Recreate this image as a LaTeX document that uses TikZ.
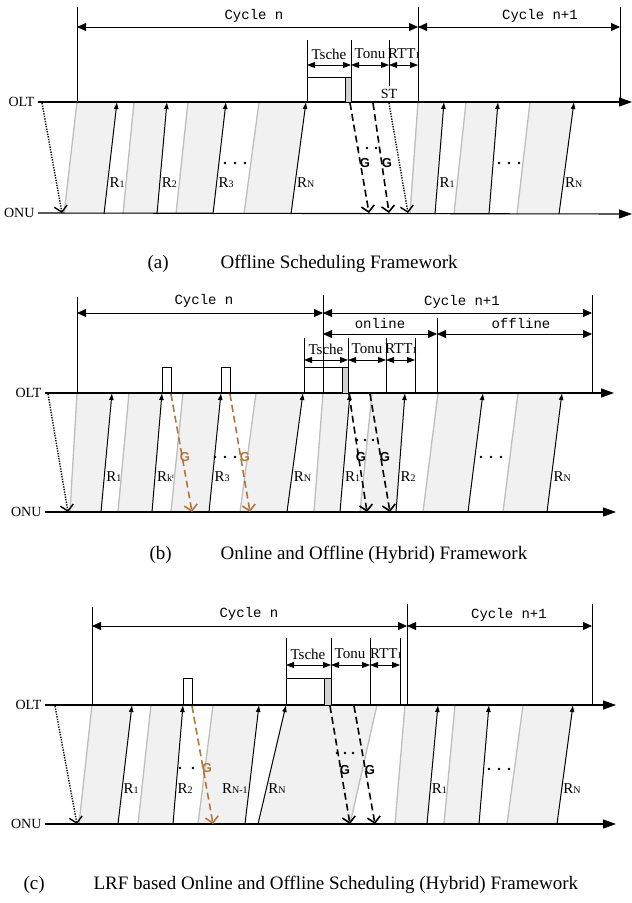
\documentclass[tikz,border=0pt]{standalone}
\usepackage{fontspec}
\setmainfont{Liberation Serif}
\setsansfont{Liberation Sans}
\setmonofont{Liberation Mono}
\usepackage{tikz}
\usetikzlibrary{arrows.meta}
\definecolor{grantorange}{RGB}{178,118,58}
\definecolor{slotgray}{RGB}{241,241,241}
\definecolor{edgegray}{RGB}{190,190,190}
\tikzset{>=stealth}
\tikzset{%
    slotfill/.style={fill=slotgray},
    slotedge/.style={draw=edgegray, line width=1.3pt},
    req/.style={-{Latex[length=7pt,width=5pt]}, line width=1pt},
    axis/.style={line width=1.1pt, -{Triangle[length=13pt,width=9pt]}},
    grant/.style={dash pattern=on 7pt off 4pt, line width=1.6pt, -{Straight Barb[length=6pt,width=13pt]}},
    ograntt/.style={grant, draw=grantorange},
    poll/.style={dash pattern=on 1.3pt off 1.3pt, line width=1.4pt, -{Straight Barb[length=6pt,width=13pt]}},
    span/.style={{Triangle[length=9pt,width=8pt]}-{Triangle[length=9pt,width=8pt]}, line width=0.9pt},
    tspan/.style={{Triangle[length=8pt,width=6pt]}-{Triangle[length=8pt,width=6pt]}, line width=0.9pt},
    mono/.style={font=\ttfamily\fontsize{14}{14}\selectfont},
    tlab/.style={font=\fontsize{15}{15}\selectfont},
    gnode/.style={font=\sffamily\bfseries\fontsize{13}{13}\selectfont, inner sep=0pt},
    captext/.style={font=\fontsize{19}{22}\selectfont, anchor=west}
}
\newcommand{\Rs}[1]{{\fontsize{15}{15}\selectfont R}{\fontsize{10}{10}\selectfont #1}}
\newcommand{\Rkn}{{\fontsize{15}{15}\selectfont R}{\fontsize{10}{10}\selectfont k\raisebox{3pt}{\fontsize{7}{7}\selectfont n}}}
\newcommand{\RTTone}{RTT{\fontsize{9}{9}\selectfont 1}}
\newcommand{\threedots}[3]{\foreach \k in {0,1,2} \fill ({#1+#3*\k},#2) circle (1.4pt);}

\begin{document}
\begin{tikzpicture}[x=1pt,y=-1pt,every node/.style={font=\fontsize{14}{16}\selectfont}]
\useasboundingbox (0,0) rectangle (632,903);

% (a) offline
\foreach \ta/\ba/\bb/\tb/\lab in {77/64/104/117/\Rs{1}, 134/123/157/167/\Rs{2}, 188/176/213/226/\Rs{3}, 259/244/291/306/\Rs{N}, 418/410/435/444/\Rs{1}, 466/454/489/498/{}, 530/517/559/574/\Rs{N}}{
    \fill[slotfill] (\ta,102) -- (\tb,102) -- (\bb,214) -- (\ba,214) -- cycle;
    \draw[slotedge] (\ta,102) -- (\ba,214);
    \draw[req] (\bb,214) -- (\tb,102) node[pos=0.28,right,inner sep=1.5pt] {\lab};
}
\node[anchor=east] (olta) at (38,102) {OLT};
\node[anchor=east] (onua) at (38,213) {ONU};
\draw[axis] (olta.east) -- (632,102);
\draw[axis] (onua.east) -- (632,214);

\draw[line width=1pt] (77,7) -- (77,102);
\draw[line width=1pt] (418,7) -- (418,102);
\draw[line width=1pt] (620,7) -- (620,102);
\draw[span] (77,27) -- (418,27);
\draw[span] (418,27) -- (620,27);
\node[mono] (cyca) at (254,16) {Cycle n};
\node[mono] (cycaa) at (540,16) {Cycle n+1};

\draw[line width=0.9pt] (307,40) -- (307,102);
\draw[line width=0.9pt] (351,40) -- (351,102);
\draw[line width=0.9pt] (389,40) -- (389,86);
\draw[tspan] (307,65) -- (351,65);
\draw[tspan] (351,65) -- (389,65);
\draw[tspan] (389,65) -- (418,65);
\node[tlab] (tschea) at (329,54) {Tsche};
\node[tlab] (tonua) at (370,54) {Tonu};
\node[tlab] (rtta) at (404,54) {\RTTone};
\node[inner sep=1pt] (sta) at (389,94) {ST};
\draw[line width=0.9pt] (307,77) rectangle (345,102);
\filldraw[fill=gray!35, line width=0.9pt] (345,77) rectangle (351,102);

\draw[poll] (42,103) -- (62,213);
\draw[poll] (389,103) -- (408,213);
\draw[grant] (350,103) -- (369,213);
\draw[grant] (373,103) -- (389,213);
\node[gnode] (ga1) at (365,163) {G};
\node[gnode] (ga2) at (387,163) {G};
\threedots{225}{163}{10}
\threedots{358}{148}{9}
\threedots{499}{163}{10}

\node[captext] (capa) at (144,264) {(a)};
\node[captext] (capta) at (217,264) {Offline Scheduling Framework};

% (b) hybrid
\foreach \ta/\ba/\bb/\tb/\lab in {77/70/101/112/\Rs{1}, 129/118/152/162/\Rkn, 183/171/209/221/\Rs{3}, 256/240/287/303/\Rs{N}, 323/314/340/350/\Rs{1}, 372/360/396/405/\Rs{2}, 438/423/468/483/{}, 518/503/547/562/\Rs{N}}{
    \fill[slotfill] (\ta,393) -- (\tb,393) -- (\bb,512) -- (\ba,512) -- cycle;
    \draw[slotedge] (\ta,393) -- (\ba,512);
    \draw[req] (\bb,512) -- (\tb,393) node[pos=0.3,right,inner sep=1.5pt] {\lab};
}
\node[anchor=east] (oltb) at (45,393) {OLT};
\node[anchor=east] (onub) at (45,512) {ONU};
\draw[axis] (oltb.east) -- (614,393);
\draw[axis] (onub.east) -- (616,512);

\draw[line width=1pt] (77,297) -- (77,393);
\draw[line width=1pt] (323,295) -- (323,393);
\draw[line width=1pt] (592,295) -- (592,393);
\draw[line width=1pt] (437,318) -- (437,393);
\draw[span] (77,313) -- (323,313);
\draw[span] (323,313) -- (592,313);
\draw[span] (323,334) -- (437,334);
\draw[span] (437,334) -- (592,334);
\node[mono] (cycb) at (204,301) {Cycle n};
\node[mono] (cycbb) at (462,302) {Cycle n+1};
\node[mono] (onl) at (380,323) {online};
\node[mono] (offl) at (521,323) {offline};

\draw[line width=0.9pt] (304,338) -- (304,393);
\draw[line width=0.9pt] (348,338) -- (348,393);
\draw[line width=0.9pt] (386,338) -- (386,393);
\draw[line width=0.9pt] (415,338) -- (415,393);
\draw[tspan] (304,360) -- (348,360);
\draw[tspan] (348,360) -- (386,360);
\draw[tspan] (386,360) -- (415,360);
\node[tlab] (tscheb) at (326,349) {Tsche};
\node[tlab] (tonub) at (367,349) {Tonu};
\node[tlab] (rttb) at (401,349) {\RTTone};
\draw[line width=0.9pt] (304,367) rectangle (342,393);
\filldraw[fill=gray!35, line width=0.9pt] (342,367) rectangle (348,393);

\draw[line width=0.9pt] (162,367) rectangle (171,393);
\draw[line width=0.9pt] (221,367) rectangle (230,393);
\draw[ograntt] (171,394) -- (192,512);
\draw[ograntt] (230,394) -- (250,512);
\node[gnode, text=grantorange] (gb1) at (185,457) {G};
\node[gnode, text=grantorange] (gb2) at (245,457) {G};

\draw[poll] (48,394) -- (68,512);
\draw[grant] (349,394) -- (367,512);
\draw[grant] (370,394) -- (390,512);
\node[gnode] (gb3) at (361,457) {G};
\node[gnode] (gb4) at (385,457) {G};
\threedots{215}{457}{10}
\threedots{357}{440}{8}
\threedots{481}{457}{10}

\node[captext] (capb) at (146,555) {(b)};
\node[captext] (captb) at (217,555) {Online and Offline (Hybrid) Framework};

% (c) LRF based hybrid
\fill[slotfill] (286,705) -- (377,705) -- (350,824) -- (258,824) -- cycle;
\draw[slotedge] (377,705) -- (350,824);
\foreach \ta/\ba/\bb/\tb/\side/\lab in {92/79/118/132/right/\Rs{1}, 151/138/173/183/right/\Rs{2}, 213/198/245/259/left/\Rs{N-1}, 405/395/427/438/right/\Rs{1}, 455/444/479/489/right/{}, 523/507/557/573/right/\Rs{N}}{
    \fill[slotfill] (\ta,705) -- (\tb,705) -- (\bb,824) -- (\ba,824) -- cycle;
    \draw[slotedge] (\ta,705) -- (\ba,824);
    \draw[req] (\bb,824) -- (\tb,705) node[pos=0.3,\side,inner sep=1pt] {\lab};
}
\draw[req] (258,824) -- (286,705) node[pos=0.3,right,inner sep=1.5pt] {\Rs{N}};
\node[anchor=east] (oltc) at (45,705) {OLT};
\node[anchor=east] (onuc) at (45,824) {ONU};
\draw[axis] (oltc.east) -- (616,705);
\draw[axis] (onuc.east) -- (616,824);

\draw[line width=1pt] (92,607) -- (92,705);
\draw[line width=1pt] (407,604) -- (407,705);
\draw[line width=1pt] (592,604) -- (592,705);
\draw[span] (92,626) -- (407,626);
\draw[span] (407,626) -- (592,626);
\node[mono] (cycc) at (249,614) {Cycle n};
\node[mono] (cyccc) at (509,615) {Cycle n+1};

\draw[line width=0.9pt] (286,638) -- (286,705);
\draw[line width=0.9pt] (331,638) -- (331,705);
\draw[line width=0.9pt] (370,638) -- (370,705);
\draw[line width=0.9pt] (400,638) -- (400,705);
\draw[tspan] (286,665) -- (331,665);
\draw[tspan] (331,665) -- (370,665);
\draw[tspan] (370,665) -- (400,665);
\node[tlab] (tschec) at (308,654) {Tsche};
\node[tlab] (tonuc) at (350,654) {Tonu};
\node[tlab] (rttc) at (386,654) {\RTTone};
\draw[line width=0.9pt] (286,678) rectangle (324,705);
\filldraw[fill=gray!35, line width=0.9pt] (324,678) rectangle (331,705);

\draw[line width=0.9pt] (183,678) rectangle (192,705);
\draw[ograntt] (192,706) -- (213,824);
\node[gnode, text=grantorange] (gc1) at (207,768) {G};
\fill (180,768) circle (1.4pt);
\fill (193,768) circle (1.4pt);

\draw[poll] (55,706) -- (77,824);
\draw[grant] (330,706) -- (350,824);
\draw[grant] (354,706) -- (375,824);
\node[gnode] (gc2) at (345,770) {G};
\node[gnode] (gc3) at (370,770) {G};
\threedots{337}{753}{8}
\threedots{489}{769}{10}

\node[captext] (capc) at (20,885) {(c)};
\node[captext] (captc) at (90,885) {LRF based Online and Offline Scheduling (Hybrid) Framework};
\end{tikzpicture}
\end{document}
